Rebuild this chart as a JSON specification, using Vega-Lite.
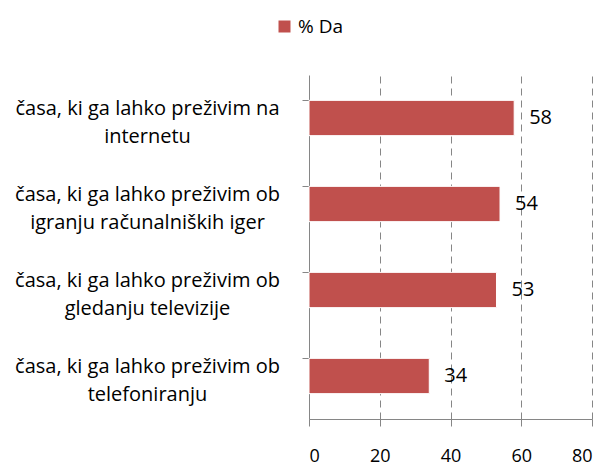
{
  "$schema": "https://vega.github.io/schema/vega-lite/v6.json",
  "width": 283,
  "height": 344,
  "autosize": {"type": "none"},
  "padding": {"left": 309, "top": 75, "right": 14, "bottom": 47},
  "background": "white",
  "config": {"view": {"stroke": null}, "font": "Open Sans"},
  "data": {
    "values": [
      {"label": "časa, ki ga lahko preživim na|internetu", "series": "% Da", "value": 58},
      {"label": "časa, ki ga lahko preživim ob|igranju računalniških iger", "series": "% Da", "value": 54},
      {"label": "časa, ki ga lahko preživim ob|gledanju televizije", "series": "% Da", "value": 53},
      {"label": "časa, ki ga lahko preživim ob|telefoniranju", "series": "% Da", "value": 34}
    ]
  },
  "encoding": {
    "y": {
      "field": "label",
      "type": "nominal",
      "sort": null,
      "scale": {"paddingInner": 0.59, "paddingOuter": 0.295},
      "axis": {
        "title": null,
        "labelExpr": "split(datum.label, '|')",
        "labelAlign": "center",
        "labelBaseline": "middle",
        "labelFont": "Open Sans",
        "labelFontSize": 20,
        "labelLineHeight": 28,
        "labelOffset": -9,
        "labelColor": "black",
        "labelLimit": 400,
        "labelPadding": 155,
        "tickSize": 7,
        "tickColor": "#868686",
        "domainColor": "#868686",
        "bandPosition": 0,
        "grid": false
      }
    },
    "x": {
      "field": "value",
      "type": "quantitative",
      "scale": {"domain": [0, 80]},
      "axis": {
        "title": null,
        "values": [0, 20, 40, 60, 80],
        "labelFont": "Open Sans",
        "labelFontSize": 18,
        "labelColor": "black",
        "labelPadding": 21,
        "tickSize": 7,
        "tickColor": "#868686",
        "domainColor": "#868686",
        "grid": true,
        "gridColor": "#868686",
        "gridDash": [7, 5],
        "gridWidth": 1
      }
    }
  },
  "layer": [
    {
      "mark": {"type": "bar", "stroke": "white", "strokeWidth": 1},
      "encoding": {
        "color": {
          "field": "series",
          "type": "nominal",
          "scale": {"range": ["#C0504D"]},
          "legend": {
            "title": null,
            "orient": "none",
            "legendX": -34,
            "legendY": -58,
            "symbolType": "square",
            "symbolSize": 144,
            "symbolStrokeWidth": 0,
            "labelFont": "Open Sans",
            "labelFontSize": 19,
            "labelColor": "black"
          }
        }
      }
    },
    {
      "mark": {"type": "text", "align": "left", "baseline": "middle", "dx": 15, "fontSize": 20, "font": "Open Sans", "color": "black"},
      "encoding": {"text": {"field": "value", "type": "quantitative"}}
    }
  ]
}
